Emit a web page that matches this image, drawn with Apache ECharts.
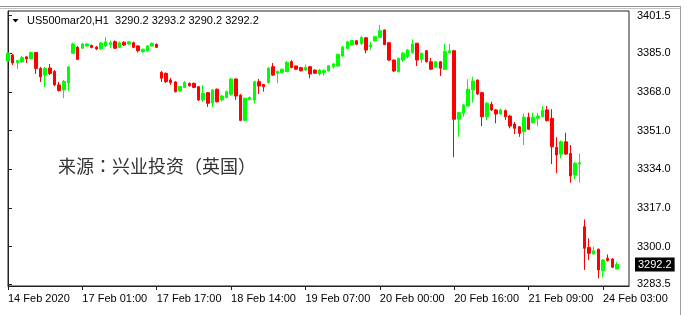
<!DOCTYPE html>
<html><head><meta charset="utf-8">
<script src="https://cdn.jsdelivr.net/npm/echarts@6/dist/echarts.min.js"></script>
<style>html,body{margin:0;padding:0;background:#fff}#c{width:689px;height:315px}</style>
</head><body><div id="c"></div>
<script>
const opens = [3381.6,3384.2,3380.9,3381.2,3383.4,3382.7,3385.3,3378.3,3375.4,3378.5,
3377.0,3371.1,3368.9,3371.9,3385.0,3387.6,3387.2,3388.2,3388.4,3387.7,
3386.9,3388.2,3388.9,3390.1,3387.6,3389.8,3389.1,3389.6,3388.2,3385.7,
3386.1,3388.2,3388.9,3376.6,3376.2,3373.2,3372.4,3368.4,3370.0,3371.8,
3371.8,3370.3,3364.5,3367.7,3363.1,3369.2,3364.5,3365.6,3367.0,3373.7,
3366.6,3355.5,3364.7,3364.5,3372.5,3371.3,3372.1,3379.1,3376.2,3376.5,
3376.9,3381.3,3379.4,3378.7,3377.6,3379.1,3377.6,3375.9,3376.5,3377.2,
3379.1,3379.4,3383.8,3387.1,3388.6,3390.5,3389.3,3391.8,3387.9,3390.4,
3392.0,3395.2,3389.6,3382.0,3376.9,3382.0,3383.5,3385.2,3389.4,3382.3,
3386.1,3381.3,3378.8,3381.3,3377.9,3385.2,3386.1,3356.0,3358.6,3361.8,
3368.9,3373.2,3367.7,3357.1,3362.6,3360.1,3358.3,3359.8,3357.4,3353.9,
3352.7,3350.5,3356.9,3354.5,3356.4,3357.1,3360.1,3356.4,3343.7,3340.7,
3346.1,3341.0,3331.5,3336.3,3308.8,3299.7,3296.8,3298.9,3289.5,3294.9,
3294.6,3290.2];
const closes = [3385.1,3380.7,3381.8,3383.1,3382.5,3385.3,3378.3,3374.6,3378.3,3376.1,
3371.1,3368.6,3372.6,3379.0,3389.1,3382.3,3389.1,3389.1,3387.5,3386.9,
3389.5,3390.0,3389.6,3387.2,3389.6,3388.6,3390.0,3387.6,3386.1,3386.7,
3388.2,3389.4,3387.6,3374.0,3372.5,3372.1,3368.1,3370.4,3372.1,3370.7,
3370.0,3364.5,3367.4,3363.0,3368.9,3363.7,3366.2,3368.1,3373.7,3366.2,
3355.5,3365.2,3365.6,3372.5,3370.6,3370.3,3378.5,3375.4,3377.0,3378.0,
3381.0,3378.7,3378.0,3377.3,3378.8,3375.9,3376.2,3377.6,3377.4,3379.5,
3380.3,3384.5,3387.7,3390.0,3390.6,3388.9,3391.9,3386.4,3388.6,3392.3,
3394.9,3388.8,3382.0,3377.2,3382.8,3385.0,3386.4,3389.1,3382.0,3385.0,
3381.3,3378.0,3381.3,3378.4,3385.7,3386.1,3356.0,3358.9,3362.3,3369.2,
3372.8,3367.1,3357.1,3363.0,3360.1,3358.3,3360.1,3357.1,3353.0,3352.0,
3349.8,3356.9,3351.6,3356.9,3357.4,3359.8,3355.4,3343.9,3340.3,3346.1,
3340.7,3331.1,3336.6,3336.9,3299.3,3297.1,3298.2,3289.8,3294.2,3293.9,
3291.0,3292.2];
const lows = [3381.2,3379.8,3378.1,3380.7,3380.7,3382.3,3375.9,3372.4,3370.2,3375.4,
3370.6,3368.2,3365.3,3368.4,3384.7,3382.0,3386.9,3387.9,3387.2,3386.4,
3386.7,3387.7,3387.2,3386.9,3387.3,3388.2,3388.6,3387.2,3385.3,3385.1,
3385.8,3388.0,3387.3,3372.4,3371.9,3371.1,3367.8,3368.0,3369.7,3370.4,
3369.6,3364.0,3363.6,3361.4,3361.4,3363.4,3363.8,3365.2,3366.2,3364.5,
3355.2,3355.2,3364.2,3363.0,3367.1,3368.1,3371.7,3375.0,3371.8,3376.1,
3376.8,3378.4,3377.6,3377.0,3377.2,3374.0,3375.9,3375.2,3375.2,3377.0,
3378.3,3379.0,3383.4,3386.7,3388.4,3388.6,3388.6,3385.0,3386.4,3390.1,
3391.7,3388.6,3381.6,3376.8,3376.5,3381.3,3382.8,3385.0,3379.4,3380.8,
3380.9,3377.6,3378.5,3375.0,3377.6,3384.9,3339.3,3348.3,3357.1,3361.4,
3363.3,3366.7,3353.0,3355.7,3359.6,3354.2,3357.9,3355.7,3352.0,3349.5,
3348.3,3344.7,3351.3,3354.1,3353.0,3356.8,3355.0,3336.3,3332.3,3338.8,
3340.3,3328.1,3329.6,3328.1,3289.8,3294.2,3296.6,3286.1,3286.4,3293.5,
3290.6,3290.2];
const highs = [3386.0,3384.7,3382.0,3383.8,3383.8,3385.8,3385.5,3379.0,3379.0,3380.3,
3377.6,3372.4,3373.3,3379.4,3389.6,3388.2,3389.5,3389.4,3388.8,3388.2,
3389.9,3392.1,3390.5,3390.6,3390.2,3390.3,3390.4,3390.1,3388.6,3387.1,
3388.6,3389.7,3389.3,3377.2,3376.5,3374.1,3372.8,3370.6,3372.8,3372.1,
3372.1,3370.6,3371.0,3368.0,3369.3,3369.5,3366.7,3368.6,3374.1,3373.9,
3367.1,3365.6,3366.0,3372.9,3373.7,3371.5,3379.0,3380.7,3377.5,3378.3,
3381.6,3382.0,3379.6,3379.0,3380.1,3379.4,3377.9,3378.1,3377.9,3379.8,
3380.7,3384.9,3388.4,3390.4,3391.0,3390.8,3392.6,3392.1,3390.0,3392.6,
3397.4,3395.4,3389.9,3382.3,3383.1,3385.6,3386.9,3391.1,3389.5,3385.3,
3386.4,3382.9,3381.6,3381.6,3389.1,3389.1,3386.4,3359.2,3362.7,3373.6,
3374.7,3373.5,3368.0,3363.6,3363.7,3360.5,3360.7,3360.3,3357.9,3354.8,
3353.0,3358.6,3358.9,3358.9,3358.8,3361.8,3361.8,3360.4,3348.1,3346.7,
3350.1,3344.7,3337.3,3341.0,3312.0,3303.7,3300.0,3299.2,3294.6,3296.6,
3295.0,3293.2];
const xTickLabels = ['14 Feb 2020','17 Feb 01:00','17 Feb 17:00','18 Feb 14:00','19 Feb 07:00','20 Feb 00:00','20 Feb 16:00','21 Feb 09:00','24 Feb 03:00'];
const barsPerTick = 16;
const yTickValues = [3401.5,3385.0,3368.0,3351.0,3334.0,3317.0,3300.0,3283.5];
const lastPrice = 3292.2;
const titleText = 'US500mar20,H1  3290.2 3293.2 3290.2 3292.2';
const sourceText = '来源：兴业投资（英国）';

const FONT = '"Liberation Sans", Arial, sans-serif';
const data = opens.map((o, i) => [i, o, closes[i], lows[i], highs[i]]);
const xTicks = xTickLabels.map((_, k) => k * barsPerTick);
const sourceRich = sourceText.replace(/([：（）])/g, '{p|$1}').replace(/([^{}|p：（）]+)(?=\{|$)/g, '{a|$1}');

const chart = echarts.init(document.getElementById('c'), null, {renderer: 'canvas'});
chart.setOption({
  animation: false,
  backgroundColor: '#fff',
  title: [
    {text: titleText, left: 27, top: 15, padding: 0,
     textStyle: {fontSize: 11, fontWeight: 'normal', fontFamily: FONT, color: '#000', lineHeight: 12}},
    {text: sourceRich, left: 58, top: 157, padding: 0,
     textStyle: {fontSize: 18, fontWeight: 'normal', color: '#333', lineHeight: 18,
       rich: {
         a: {fontSize: 18, fontFamily: '"Noto Sans CJK SC"', color: '#333', lineHeight: 18},
         p: {fontSize: 18, fontFamily: '"Noto Sans CJK TC"', color: '#333', lineHeight: 18}
       }}}
  ],
  grid: {left: 8, top: 11, width: 621, height: 275, show: true, borderColor: '#222', borderWidth: 1, backgroundColor: '#fff'},
  xAxis: {
    type: 'value', min: 0, max: 133.6, interval: barsPerTick,
    splitLine: {show: false},
    axisLine: {show: true, onZero: false, lineStyle: {color: '#222'}},
    axisTick: {show: true, length: 4, lineStyle: {color: '#222'}, customValues: xTicks},
    axisLabel: {customValues: xTicks, align: 'left', margin: 7, fontSize: 11, fontFamily: FONT, color: '#000',
      formatter: v => (v % barsPerTick === 0 ? (xTickLabels[v / barsPerTick] || '') : '')}
  },
  yAxis: {
    type: 'value', position: 'right', min: 3282.75, max: 3403.56, scale: true,
    splitLine: {show: false},
    axisLine: {show: true, lineStyle: {color: '#222'}},
    axisTick: {show: true, length: 4, customValues: yTickValues, lineStyle: {color: '#222'}},
    axisLabel: {customValues: yTickValues, margin: 8, fontSize: 11, fontFamily: FONT, color: '#000',
      formatter: v => v.toFixed(1)}
  },
  series: [{
    type: 'candlestick', data: data, barWidth: 3,
    itemStyle: {color: '#00ff00', color0: '#ff0000', borderColor: '#00ff00', borderColor0: '#ff0000', borderWidth: 1},
    markLine: {
      silent: true, symbol: 'none', animation: false,
      data: [{yAxis: lastPrice}],
      lineStyle: {color: 'rgba(0,0,0,0)', width: 1, type: 'solid'},
      label: {show: true, position: 'end', distance: 6, formatter: lastPrice.toFixed(1),
        backgroundColor: '#000', color: '#fff', padding: [2, 3, 1, 3], fontSize: 11, fontFamily: FONT}
    }
  }],
  graphic: [
    {type: 'line', shape: {x1: 0, y1: 6.5, x2: 680, y2: 6.5}, style: {stroke: '#909090', lineWidth: 1}},
    {type: 'line', shape: {x1: 0, y1: 8.5, x2: 680, y2: 8.5}, style: {stroke: '#c4c4c4', lineWidth: 1}},
    {type: 'line', shape: {x1: 680.5, y1: 6, x2: 680.5, y2: 315}, style: {stroke: '#a0a0a0', lineWidth: 1}},
    {type: 'polygon', shape: {points: [[12.5, 19], [18.5, 19], [15.5, 22.5]]}, style: {fill: '#000'}}
  ]
});
</script>
</body></html>
